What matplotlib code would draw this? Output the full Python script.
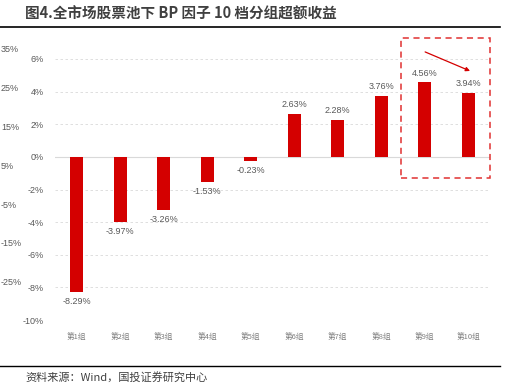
import matplotlib.pyplot as plt
from matplotlib.patches import Rectangle

plt.rcParams['font.family'] = ['Noto Sans CJK SC', 'DejaVu Sans']

groups = ["第1组", "第2组", "第3组", "第4组", "第5组", "第6组", "第7组", "第8组", "第9组", "第10组"]
excess = [-8.29, -3.97, -3.26, -1.53, -0.23, 2.63, 2.28, 3.76, 4.56, 3.94]
yticks = [-10, -8, -6, -4, -2, 0, 2, 4, 6]
ghost_labels = ["35%", "25%", "15%", "5%", "-5%", "-15%", "-25%"]

red = "#D40000"
gray = "#595959"

fig = plt.figure(figsize=(5.06, 3.87), dpi=100)
ax = fig.add_axes([55 / 506, 1 - 320 / 387, 435 / 506, 261 / 387])

x = range(len(groups))
ax.bar(x, excess, width=0.31, color=red, zorder=3)
for i, v in enumerate(excess):
    off = 0.3 if v > 0 else -0.3
    ax.text(i, v + off, f"{v:.2f}%", ha="center", va="bottom" if v > 0 else "top",
            fontsize=6.5, color=gray, family=["Liberation Sans", "DejaVu Sans"])

ax.set_xlim(-0.5, 9.5)
ax.set_ylim(-10, 6)
ax.set_yticks(yticks)
ax.set_yticklabels([f"{t}%" for t in yticks], fontsize=6.5, color=gray,
                   family=["Liberation Sans", "DejaVu Sans"])
ax.set_xticks(list(x))
ax.set_xticklabels(groups, fontsize=5.5, color="#7f7f7f")
ax.tick_params(length=0, pad=8)
ax.tick_params(axis="x", pad=9)
for s in ax.spines.values():
    s.set_visible(False)
for t in yticks:
    if t == 0:
        ax.axhline(0, color="#d9d9d9", lw=0.8, zorder=2)
    else:
        ax.axhline(t, color="#d9d9d9", lw=0.6, ls=(0, (3, 3)), zorder=1)

# highlight box and arrow
ax.add_patch(Rectangle((7.45, -1.29), 2.05, 8.6, fill=False, ec="#E03030",
                       ls=(0, (4, 3)), lw=1.1, clip_on=False, zorder=4))
ax.annotate("", xy=(9.1, 5.2), xytext=(7.95, 6.5),
            arrowprops=dict(arrowstyle="-|>", color=red, lw=0.9, mutation_scale=6),
            annotation_clip=False)

# labels from the neighbouring chart on the left
for i, lab in enumerate(ghost_labels):
    ypix = 50 + i * 38.8
    fig.text(1 / 506, 1 - ypix / 387, lab, ha="left", va="center", fontsize=6.5,
             color=gray, family=["Liberation Sans", "DejaVu Sans"])

fig.text(25 / 506, 1 - 14 / 387, "图4.全市场股票池下 BP 因子 10 档分组超额收益",
         fontsize=10.5, fontweight="bold", color="#404040", va="center")
fig.add_artist(plt.Line2D([0, 500 / 506], [1 - 27 / 387] * 2, color="black", lw=1.2))
fig.add_artist(plt.Line2D([0, 500 / 506], [1 - 366 / 387] * 2, color="black", lw=1.0))
fig.text(25 / 506, 1 - 377 / 387, "资料来源：Wind，国投证券研究中心", fontsize=8,
         color="#404040", va="center", style="italic")

fig.savefig("out.png", dpi=100)
